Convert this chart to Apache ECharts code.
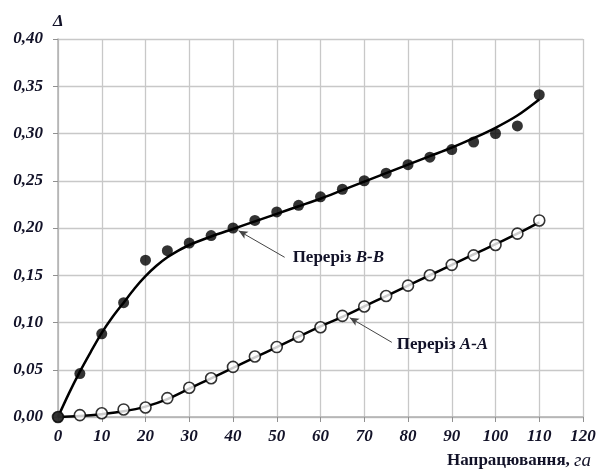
<!DOCTYPE html>
<html><head><meta charset="utf-8">
<script src="https://cdn.jsdelivr.net/npm/echarts@6/dist/echarts.min.js"></script>
<style>html,body{margin:0;padding:0;background:#fff}#c{width:601px;height:471px}</style>
</head><body><div id="c"></div>
<script>
const xs = [0,5,10,15,20,25,30,35,40,45,50,55,60,65,70,75,80,85,90,95,100,105,110];
const bbPoints = [0,0.046,0.088,0.121,0.166,0.176,0.184,0.192,0.200,0.208,0.217,0.224,0.233,0.241,0.250,0.258,0.267,0.275,0.283,0.291,0.300,0.308,0.341];
const aaPoints = [0,0.002,0.004,0.008,0.010,0.020,0.031,0.041,0.053,0.064,0.074,0.085,0.095,0.107,0.117,0.128,0.139,0.150,0.161,0.171,0.182,0.194,0.208];
const bbCurveX = [0,2.5,5,7.5,10,12.5,15,17.5,20,22.5,25,27.5,30,35,40,45,50,55,60,65,70,75,80,85,90,95,100,105,110];
const bbCurve = [0,0.025,0.048,0.069,0.089,0.106,0.121,0.136,0.149,0.160,0.169,0.176,0.182,0.191,0.199,0.207,0.215,0.223,0.231,0.240,0.249,0.258,0.267,0.276,0.285,0.295,0.306,0.319,0.336];
const aaCurve = [0,0.001,0.003,0.006,0.011,0.019,0.030,0.041,0.052,0.063,0.074,0.085,0.096,0.106,0.117,0.128,0.139,0.150,0.161,0.172,0.183,0.194,0.206];
const arrowBB = [[51.8,0.169],[41.3,0.197]];
const arrowAA = [[76.3,0.079],[66.7,0.105]];

const pair = (a,b)=>a.map((v,i)=>[v,b[i]]);
const txtColor = '#121228';
const serif = '"Liberation Serif","DejaVu Serif",serif';
const chart = echarts.init(document.getElementById('c'));
chart.setOption({
  animation:false,
  backgroundColor:'#fff',
  grid:{left:58,right:18,top:39,bottom:54},
  xAxis:{type:'value',min:0,max:120,interval:10,
    axisLine:{lineStyle:{color:'#b0b0b0',width:1.5}},
    axisTick:{show:true,length:5,lineStyle:{color:'#909090'}},
    splitLine:{lineStyle:{color:'#c8c8c8',width:1.3}},
    axisLabel:{color:txtColor,fontFamily:serif,fontSize:17,fontWeight:'bold',fontStyle:'italic',margin:11}
  },
  yAxis:{type:'value',min:0,max:0.4,interval:0.05,
    axisLine:{show:true,lineStyle:{color:'#b0b0b0',width:1.5}},
    axisTick:{show:true,length:5,lineStyle:{color:'#909090'}},
    splitLine:{lineStyle:{color:'#c8c8c8',width:1.3}},
    axisLabel:{color:txtColor,fontFamily:serif,fontSize:17,fontWeight:'bold',fontStyle:'italic',margin:15,
      formatter:v=>v.toFixed(2).replace('.',',')}
  },
  series:[
    {type:'line',data:pair(bbCurveX,bbCurve),smooth:0.3,showSymbol:false,symbol:'none',
      lineStyle:{color:'#000',width:2.5},z:2,
      markLine:{silent:true,symbol:['none','arrow'],symbolSize:[6,9],
        lineStyle:{color:'#444',width:1,type:'solid'},label:{show:false},
        data:[[{coord:arrowBB[0]},{coord:arrowBB[1]}],[{coord:arrowAA[0]},{coord:arrowAA[1]}]]}},
    {type:'line',data:pair(xs,aaCurve),smooth:0.4,showSymbol:false,symbol:'none',
      lineStyle:{color:'#000',width:2.5},z:2},
    {type:'scatter',data:pair(xs,aaPoints),symbol:'circle',symbolSize:11,
      itemStyle:{color:'#fff',borderColor:'#000',borderWidth:1.6},z:3},
    {type:'scatter',data:pair(xs,bbPoints),symbol:'circle',symbolSize:11,
      itemStyle:{color:'#000'},z:4}
  ]
});
const pB = chart.convertToPixel({gridIndex:0},arrowBB[0]);
const pA = chart.convertToPixel({gridIndex:0},arrowAA[0]);
const rich = {
  n:{fontFamily:serif,fontSize:17,fontWeight:'bold',fill:txtColor},
  i:{fontFamily:serif,fontSize:17,fontWeight:'bold',fontStyle:'italic',fill:txtColor}
};
chart.setOption({graphic:[
  {type:'text',x:pB[0]+8,y:pB[1],style:{text:'{n|Переріз }{i|B-B}',rich:rich,verticalAlign:'middle',align:'left'}},
  {type:'text',x:pA[0]+5,y:pA[1]+2,style:{text:'{n|Переріз }{i|A-A}',rich:rich,verticalAlign:'middle',align:'left'}},
  {type:'text',x:53,y:22,style:{text:'Δ',fontFamily:serif,fontSize:17,fontWeight:'bold',fontStyle:'italic',fill:txtColor,verticalAlign:'middle'}},
  {type:'text',x:591,y:461,style:{text:'{n|Напрацювання, }{i|га}',rich:{
    n:{fontFamily:serif,fontSize:17,fontWeight:'bold',fill:txtColor},
    i:{fontFamily:serif,fontSize:19,fontStyle:'italic',fill:txtColor}},align:'right',verticalAlign:'middle'}}
]});
</script></body></html>
